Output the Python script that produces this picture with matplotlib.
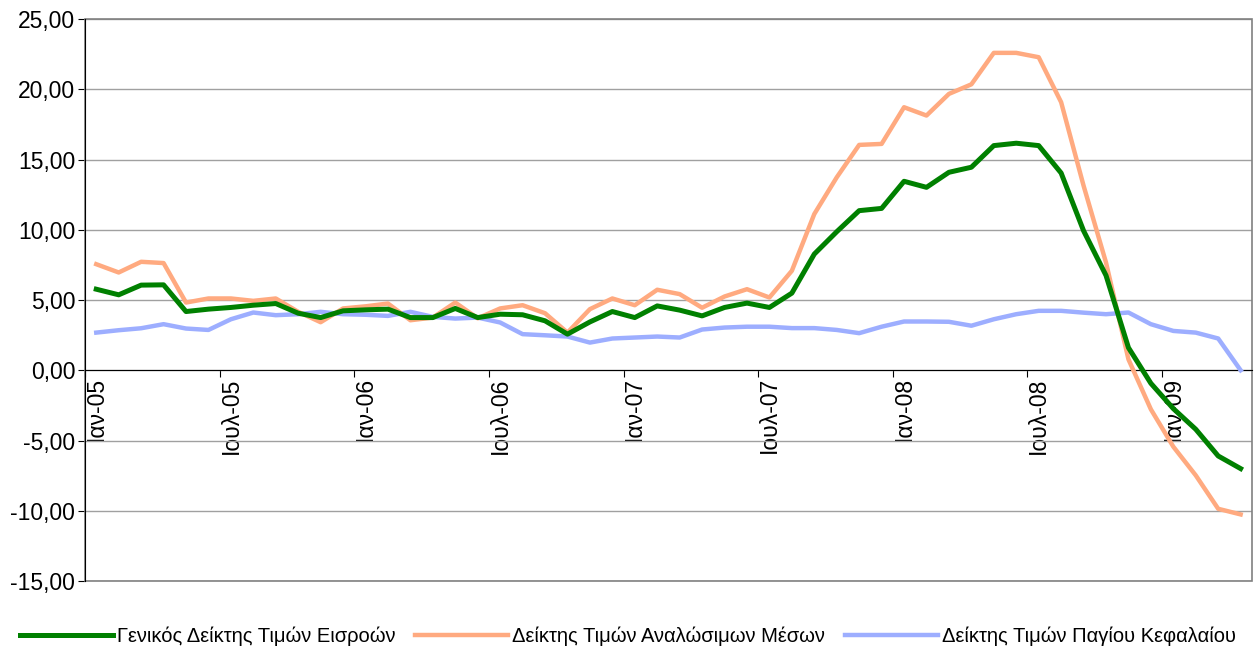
import matplotlib
matplotlib.use("Agg")
import matplotlib.pyplot as plt
from matplotlib.patches import Rectangle
from matplotlib.ticker import FuncFormatter

plt.rcParams['font.family'] = ['Liberation Sans', 'DejaVu Sans']

# monthly data, Jan-05 .. Apr-09
months = ['Ιαν', 'Φεβ', 'Μαρ', 'Απρ', 'Μαϊ', 'Ιουν',
          'Ιουλ', 'Αυγ', 'Σεπ', 'Οκτ', 'Νοε', 'Δεκ']
years = ['05', '06', '07', '08', '09']
labels = [m + '-' + y for y in years for m in months][:52]

general = [5.77, 5.37, 6.06, 6.08, 4.18, 4.35, 4.47, 4.63, 4.75, 4.06,
           3.75, 4.23, 4.30, 4.35, 3.75, 3.75, 4.40, 3.75, 3.99, 3.95,
           3.52, 2.57, 3.44, 4.18, 3.75, 4.58, 4.28, 3.87, 4.47, 4.78,
           4.47, 5.49, 8.27, 9.86, 11.36, 11.52, 13.45, 13.02, 14.09, 14.45,
           15.99, 16.16, 15.99, 14.04, 9.93, 6.75, 1.61, -0.93, -2.73, -4.20,
           -6.10, -7.00]

consumables = [7.55, 6.96, 7.72, 7.63, 4.82, 5.11, 5.11, 4.94, 5.11, 4.16,
               3.42, 4.40, 4.55, 4.75, 3.56, 3.75, 4.82, 3.70, 4.40, 4.63,
               4.06, 2.68, 4.35, 5.11, 4.63, 5.73, 5.42, 4.45, 5.25, 5.77,
               5.18, 7.08, 11.12, 13.73, 16.04, 16.11, 18.72, 18.13, 19.67, 20.35,
               22.59, 22.59, 22.28, 19.08, 13.14, 7.67, 0.78, -2.78, -5.44, -7.48,
               -9.86, -10.26]

capital = [2.68, 2.85, 2.99, 3.28, 2.97, 2.87, 3.63, 4.11, 3.92, 3.99,
           4.16, 3.99, 3.95, 3.87, 4.16, 3.80, 3.68, 3.75, 3.40, 2.57,
           2.49, 2.40, 1.97, 2.26, 2.33, 2.40, 2.33, 2.90, 3.04, 3.10,
           3.10, 3.00, 3.00, 2.87, 2.64, 3.10, 3.47, 3.47, 3.45, 3.17,
           3.63, 3.99, 4.23, 4.23, 4.10, 3.99, 4.11, 3.28, 2.80, 2.68,
           2.26, 0.00]

names = ['Γενικός Δείκτης Τιμών Εισροών',
         'Δείκτης Τιμών Αναλώσιμων Μέσων',
         'Δείκτης Τιμών Παγίου Κεφαλαίου']

x = list(range(len(labels)))

fig = plt.figure(figsize=(12.56, 6.51), dpi=100)
ax = fig.add_axes([0.0677, 0.1075, 0.929, 0.8633])

ax.plot(x, capital, color='#9DAEFF', lw=3.2, label=names[2], zorder=3)
ax.plot(x, consumables, color='#FFAA80', lw=3.2, label=names[1], zorder=4)
ax.plot(x, general, color='#008000', lw=3.6, label=names[0], zorder=5)

ax.set_xlim(-0.5, len(labels) - 0.5)
ax.set_ylim(-15, 25)
ax.set_yticks(range(-15, 26, 5))
ax.yaxis.set_major_formatter(FuncFormatter(lambda v, p: ('%.2f' % v).replace('.', ',')))
ax.grid(axis='y', color='#A0A0A0', lw=1)
ax.set_axisbelow(True)

# category axis crossing at zero, ticks between categories
ax.spines['bottom'].set_position(('data', 0))
ax.spines['bottom'].set_color('black')
ax.spines['left'].set_color('black')
ax.spines['top'].set_visible(False)
ax.spines['right'].set_visible(False)
ax.add_patch(Rectangle((0, 0), 1, 1, transform=ax.transAxes, fill=False,
                       edgecolor='#808080', lw=1.2, clip_on=False, zorder=1))

ax.set_xticks([i - 0.5 for i in range(0, len(labels), 6)])
ax.set_xticklabels([])
ax.set_xticks(list(range(0, len(labels), 6)), minor=True)
ax.set_xticklabels(labels[::6], minor=True, rotation=90, fontsize=16.5, va='top')
ax.tick_params(axis='x', which='major', direction='out', length=5, color='black')
ax.tick_params(axis='x', which='minor', length=0, pad=5)
ax.tick_params(axis='y', direction='out', length=5, labelsize=16.5, pad=2)

h, l = ax.get_legend_handles_labels()
fig.legend(h[::-1], l[::-1], loc='center', bbox_to_anchor=(0.5, 0.022), ncol=3,
           frameon=False, fontsize=14.5, handlelength=4.6, handletextpad=0.2,
           columnspacing=1.0)

fig.savefig('out.png', dpi=100)
